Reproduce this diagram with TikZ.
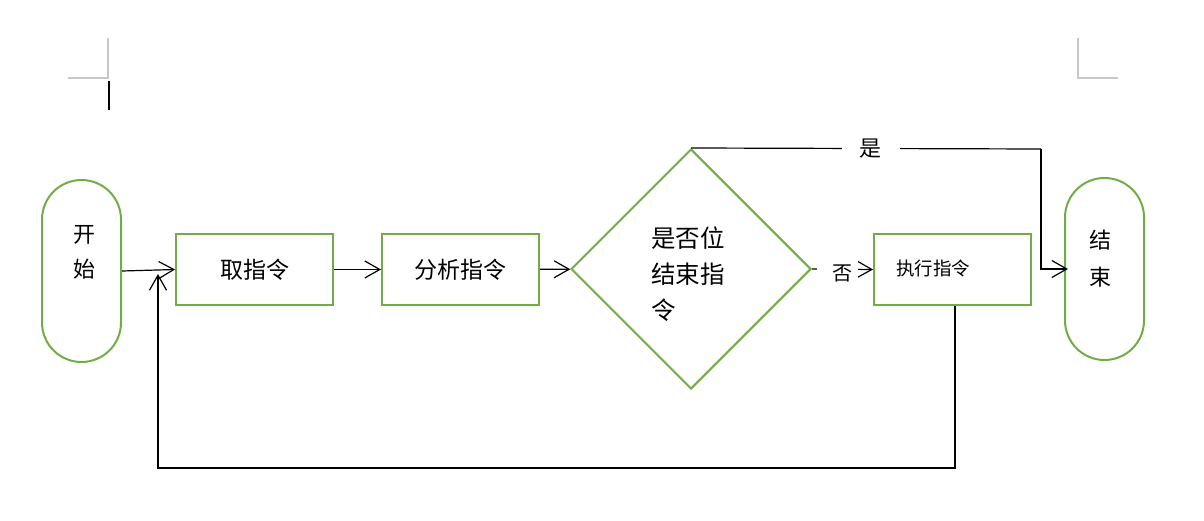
\documentclass[tikz,border=0pt]{standalone}
\usepackage{fontspec}
\setmainfont{Noto Sans CJK SC}
\usetikzlibrary{arrows.meta,shapes.geometric}
\definecolor{fgreen}{RGB}{112,173,71}
\definecolor{mgray}{RGB}{200,200,200}
\tikzset{
  shp/.style={draw=fgreen, line width=2pt, inner sep=0pt},
  term/.style={shp, rectangle, rounded corners=39.5pt, minimum width=79pt, minimum height=182pt},
  procbox/.style={shp, rectangle, minimum width=157pt, minimum height=71pt, font=\fontsize{23}{28}\selectfont},
  decision/.style={shp, diamond, minimum width=240pt, minimum height=240pt, aspect=1},
  txt/.style={inner sep=0pt, align=center},
  conn/.style={draw=black, line width=1.2pt},
  arr/.style={conn, -{Straight Barb[length=15pt, width=17pt, line width=1.2pt]}},
  lbl/.style={fill=white, inner ysep=2pt, text=black},
  marks/.style={draw=mgray, line width=1.2pt}
}
\begin{document}
\begin{tikzpicture}[x=1pt,y=-1pt]
\useasboundingbox (0,0) rectangle (1204,521);
% page corner marks and cursor
\draw[marks] (108,38) -- (108,78) -- (68,78);
\draw[marks] (1078,38) -- (1078,78) -- (1118,78);
\draw[black, line width=2pt] (109,81) -- (109,110);

% nodes
\node[term] (start) at (81.5,271) {};
\node[txt, font=\fontsize{22}{35}\selectfont] (starttxt) at (84,252) {开\\始};
\node[procbox] (take) at (254.5,269.5) {取指令};
\node[procbox] (analyze) at (460.5,269.5) {分析指令};
\node[decision] (dec) at (691,269) {};
\node[txt, align=left, anchor=west, font=\fontsize{24.5}{36}\selectfont] (dectxt) at (651,274) {是否位\\结束指\\令};
\node[procbox] (exec) at (952.5,269.5) {};
\node[txt, font=\fontsize{18.5}{22}\selectfont] (exectxt) at (933,268) {执行指令};
\node[term] (end) at (1104.5,269) {};
\node[txt, font=\fontsize{22}{37}\selectfont] (endtxt) at (1100,258.5) {结\\束};

% coordinates
\coordinate (yesc) at (1041,149);
\coordinate (loopr) at (955,468);
\coordinate (loopl) at (158,468);
\coordinate (loopend) at (158,274);

% connectors
\draw[arr] (start.east) -- (take.west);
\draw[arr] (take) -- (analyze);
\draw[arr] (analyze) -- (dec);
\draw[arr] (dec.east) -- node[lbl, pos=0.41, yshift=-4pt, inner xsep=5pt, inner ysep=6pt, font=\fontsize{20}{24}\selectfont] {\hspace{11pt}否} (exec.west);
\draw[conn] (dec.north) -- node[lbl, pos=0.514, inner xsep=18pt, font=\fontsize{22}{24}\selectfont] {是} (yesc);
\draw[arr] (yesc) |- ([xshift=4pt]end.west);
\draw[arr] (exec.south -| loopr) -- (loopr) -- (loopl) -- (loopend);
\end{tikzpicture}
\end{document}
